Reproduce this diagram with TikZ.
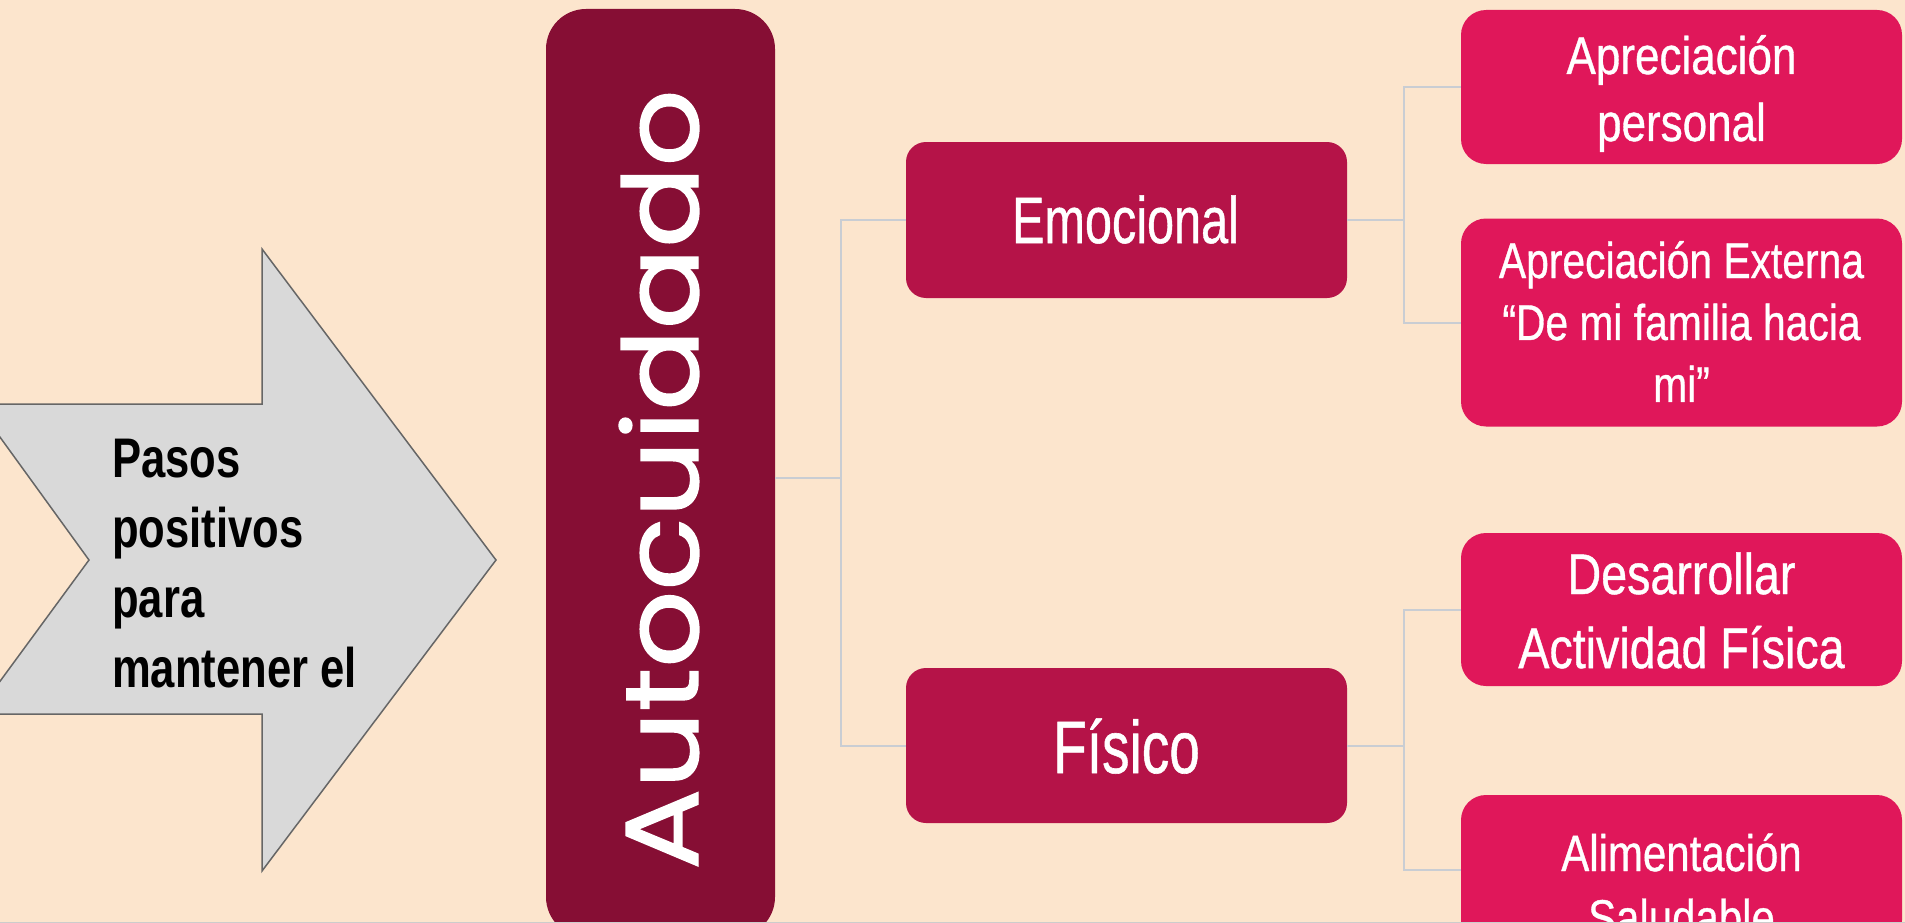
\documentclass[tikz,border=0pt]{standalone}
\usepackage{fontspec}
\setmainfont{Liberation Sans}
\newfontfamily\popfont[FakeBold=1.4]{Poppins}
\newfontfamily\wfont[FakeBold=0.8]{Liberation Sans}
\usepackage{graphicx}
\definecolor{bgc}{HTML}{FCE5CD}
\definecolor{arrfill}{HTML}{D9D9D9}
\definecolor{arrline}{HTML}{666666}
\definecolor{maroonc}{HTML}{860E34}
\definecolor{midred}{HTML}{B51348}
\definecolor{brightred}{HTML}{E0175A}
\definecolor{connc}{HTML}{C9CDD3}
\begin{document}
\begin{tikzpicture}[x=1pt,y=-1pt,
  conn/.style={draw=connc, line width=2pt},
  mainbox/.style={rectangle, rounded corners=40pt, fill=maroonc, inner sep=0pt, minimum width=229pt, minimum height=928pt},
  midbox/.style={rectangle, rounded corners=20pt, fill=midred, inner sep=0pt, minimum width=441pt},
  leafbox/.style={rectangle, rounded corners=25pt, fill=brightred, inner sep=0pt, minimum width=441pt},
  txt/.style={inner sep=0pt, text=white, anchor=base, font=\wfont}]
\useasboundingbox (0,0) rectangle (1905,923);
\fill[bgc] (0,0) rectangle (1905,923);
\begin{scope}
\clip (0,0) rectangle (1905,923);
% arrow shape
\filldraw[fill=arrfill, draw=arrline, line width=1.5pt, line join=miter]
  (-24,404) -- (262,404) -- (262,249) -- (496,560) -- (262,871) -- (262,714) -- (-24,714) -- (89,560) -- cycle;
\node[inner sep=0pt, anchor=base west, text=black] (pasos) at (112,477)
  {\scalebox{1}[1.28]{\fontsize{43.6pt}{54.7pt}\selectfont\bfseries\begin{tabular}[t]{@{}l@{}}Pasos\\positivos\\para\\mantener el\end{tabular}}};
% boxes
\node[mainbox] (auto) at (660.5,473) {};
\node[txt, rotate=90, anchor=base west] (autot) at (698,870) {\resizebox{780pt}{79pt}{\popfont Autocuidado}};
\node[midbox, minimum height=156pt] (emo) at (1126.5,220) {};
\node[txt] (emot) at (1125.5,243) {\scalebox{1}[1.35]{\fontsize{48.6pt}{50pt}\selectfont Emocional}};
\node[midbox, minimum height=155pt] (fis) at (1126.5,745.5) {};
\node[txt] (fist) at (1126.5,773) {\scalebox{1}[1.35]{\fontsize{55pt}{56pt}\selectfont Físico}};
\node[leafbox, minimum height=154pt] (r1) at (1681.5,87) {};
\node[txt] (r1t) at (1681.5,74) {\scalebox{1}[1.2]{\fontsize{44pt}{55.8pt}\selectfont\begin{tabular}[t]{@{}c@{}}Apreciación\\personal\end{tabular}}};
\node[leafbox, minimum height=208pt] (r2) at (1681.5,322.5) {};
\node[txt] (r2t) at (1681.5,278) {\scalebox{1}[1.23]{\fontsize{40.8pt}{50.4pt}\selectfont\begin{tabular}[t]{@{}c@{}}Apreciación Externa\\“De mi familia hacia\\mi”\end{tabular}}};
\node[leafbox, minimum height=153pt] (r3) at (1681.5,609.5) {};
\node[txt] (r3t) at (1681.5,594) {\scalebox{1}[1.23]{\fontsize{46.6pt}{60.2pt}\selectfont\begin{tabular}[t]{@{}c@{}}Desarrollar\\Actividad Física\end{tabular}}};
\node[leafbox, minimum height=150pt] (r4) at (1681.5,870) {};
\node[txt] (r4t) at (1681.5,871) {\scalebox{1}[1.22]{\fontsize{42pt}{53pt}\selectfont\begin{tabular}[t]{@{}c@{}}Alimentación\\Saludable\end{tabular}}};
% connectors
\coordinate (j1) at (841,478);
\coordinate (j2) at (1404,220);
\coordinate (j3) at (1404,745);
\draw[conn] (auto.east |- j1) -- (j1);
\draw[conn] (emo.west) -- (emo.west -| j1) -- (fis.west -| j1) -- (fis.west);
\draw[conn] (emo.east) -- (emo.east -| j2);
\draw[conn] (r1.west) -- (r1.west -| j2) -- (r2.west -| j2) -- (r2.west);
\draw[conn] (fis.east) -- (fis.east -| j3);
\draw[conn] (r3.west) -- (r3.west -| j3) -- (r4.west -| j3) -- (r4.west);
\draw[black!20, line width=1pt] (0,922.5) -- (1905,922.5);
\end{scope}
\end{tikzpicture}
\end{document}
